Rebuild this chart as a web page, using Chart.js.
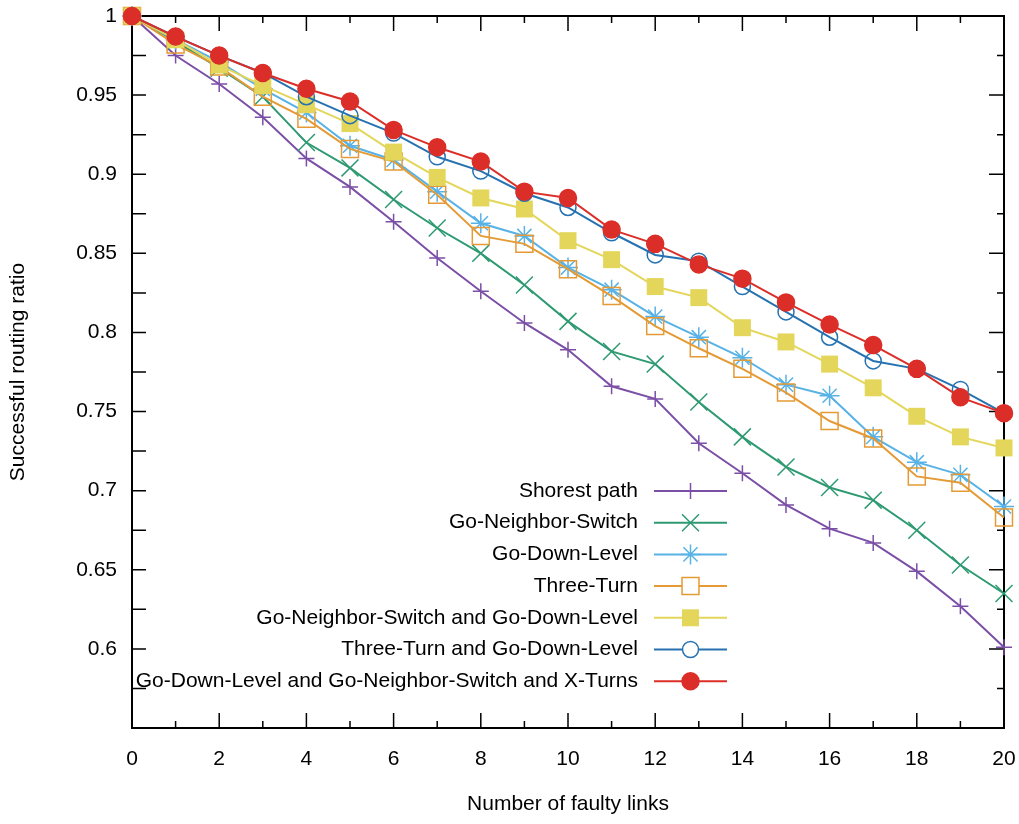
<!DOCTYPE html>
<html lang="en">
  <head>
    <meta charset="UTF-8" />
    <title>Successful routing ratio vs faulty links</title>
    <style>
      * {
        margin: 0;
        padding: 0;
        box-sizing: border-box;
      }
      body {
        background: white;
      }
      .chartBox {
        width: 1019px;
        height: 824px;
      }
    </style>
  </head>
  <body>
    <div class="chartBox">
      <canvas id="myChart" width="1019" height="824"></canvas>
    </div>

    <script src="https://cdn.jsdelivr.net/npm/chart.js"></script>

    <script>
      const faultyLinks = [0, 1, 2, 3, 4, 5, 6, 7, 8, 9, 10, 11, 12, 13, 14, 15, 16, 17, 18, 19, 20];
      const xTickLabels = ["0", "2", "4", "6", "8", "10", "12", "14", "16", "18", "20"];
      const yTickLabels = ["0.6", "0.65", "0.7", "0.75", "0.8", "0.85", "0.9", "0.95", "1"];

      const shortestPath = [1.0, 0.975, 0.957, 0.936, 0.910, 0.892, 0.870, 0.847, 0.826, 0.806, 0.789,
        0.766, 0.758, 0.730, 0.711, 0.691, 0.676, 0.667, 0.649, 0.627, 0.601];
      const goNeighborSwitch = [1.0, 0.984, 0.967, 0.949, 0.920, 0.904, 0.884, 0.866, 0.850, 0.830, 0.807,
        0.788, 0.780, 0.756, 0.734, 0.715, 0.702, 0.694, 0.675, 0.653, 0.635];
      const goDownLevel = [1.0, 0.985, 0.971, 0.954, 0.939, 0.918, 0.909, 0.889, 0.869, 0.861, 0.841,
        0.827, 0.810, 0.797, 0.784, 0.767, 0.760, 0.734, 0.718, 0.710, 0.690];
      const threeTurn = [1.0, 0.982, 0.968, 0.949, 0.935, 0.916, 0.908, 0.887, 0.861, 0.856, 0.840,
        0.823, 0.804, 0.790, 0.777, 0.762, 0.744, 0.733, 0.709, 0.705, 0.683];
      const neighborAndDown = [1.0, 0.985, 0.969, 0.956, 0.944, 0.932, 0.914, 0.898, 0.885, 0.878, 0.858,
        0.846, 0.829, 0.822, 0.803, 0.794, 0.780, 0.765, 0.747, 0.734, 0.727];
      const threeTurnAndDown = [1.0, 0.987, 0.975, 0.964, 0.949, 0.937, 0.926, 0.911, 0.902, 0.888, 0.879,
        0.863, 0.849, 0.845, 0.829, 0.813, 0.797, 0.782, 0.777, 0.764, 0.749];
      const allWithXTurns = [1.0, 0.987, 0.975, 0.964, 0.954, 0.946, 0.928, 0.917, 0.908, 0.889, 0.885,
        0.865, 0.856, 0.843, 0.834, 0.819, 0.805, 0.792, 0.777, 0.759, 0.749];

      Chart.defaults.font.family = "'Liberation Sans', Arial, sans-serif";
      Chart.defaults.font.size = 21;
      Chart.defaults.color = "#000";

      const toPoints = (values) => values.map((v, i) => ({ x: faultyLinks[i], y: v }));
      const fmt = (v) => String(+v.toFixed(3));

      const series = [
        { label: "Shorest path", values: shortestPath, color: "#7b4fa6", style: "cross", r: 8, fill: true },
        { label: "Go-Neighbor-Switch", values: goNeighborSwitch, color: "#2e9a72", style: "crossRot", r: 12, fill: true },
        { label: "Go-Down-Level", values: goDownLevel, color: "#58b2e6", style: "star", r: 10, fill: true },
        { label: "Three-Turn", values: threeTurn, color: "#e49a35", style: "rect", r: 12, fill: false },
        { label: "Go-Neighbor-Switch and Go-Down-Level", values: neighborAndDown, color: "#e3d65a", style: "rect", r: 12, fill: true },
        { label: "Three-Turn and Go-Down-Level", values: threeTurnAndDown, color: "#2672b0", style: "circle", r: 8, fill: false },
        { label: "Go-Down-Level and Go-Neighbor-Switch and X-Turns", values: allWithXTurns, color: "#dc2e28", style: "circle", r: 8.5, fill: true },
      ];

      const data = {
        datasets: series.map((s, i) => ({
          label: s.label,
          data: toPoints(s.values),
          borderColor: s.color,
          backgroundColor: s.color,
          borderWidth: 2,
          pointStyle: s.style,
          pointRadius: s.r,
          pointBorderColor: s.color,
          pointBackgroundColor: s.fill ? s.color : "rgba(0,0,0,0)",
          pointBorderWidth: s.style === "rect" && s.fill ? 0 : 1.5,
          pointHoverRadius: s.r,
          tension: 0,
          clip: false,
          order: series.length - i,
        })),
      };

      // gnuplot style frame with inward ticks on all four sides
      const frameTicks = {
        id: "frameTicks",
        beforeDatasetsDraw(chart) {
          const { ctx, chartArea, scales } = chart;
          const { left, right, top, bottom } = chartArea;
          ctx.save();
          ctx.strokeStyle = "#000";
          ctx.lineWidth = 1.5;
          ctx.beginPath();
          scales.x.ticks.forEach((t) => {
            const px = scales.x.getPixelForValue(t.value);
            const len = t.value % 2 === 0 ? 15 : 7;
            ctx.moveTo(px, bottom);
            ctx.lineTo(px, bottom - len);
            ctx.moveTo(px, top);
            ctx.lineTo(px, top + len);
          });
          scales.y.ticks.forEach((t) => {
            const py = scales.y.getPixelForValue(t.value);
            const major = yTickLabels.includes(fmt(t.value));
            ctx.moveTo(left, py);
            ctx.lineTo(left + 14, py);
            ctx.moveTo(right, py);
            ctx.lineTo(right - (major ? 15 : 7), py);
          });
          ctx.stroke();
          ctx.lineWidth = 2;
          ctx.strokeRect(left, top, right - left, bottom - top);
          ctx.restore();
        },
      };

      // key drawn inside the plot: text right aligned, sample line after it
      const keyBox = {
        id: "keyBox",
        afterDatasetsDraw(chart) {
          const { ctx, chartArea } = chart;
          const textRight = chartArea.left + 506;
          const lineStart = textRight + 16;
          const lineEnd = lineStart + 73;
          ctx.save();
          ctx.font = "21px 'Liberation Sans', Arial, sans-serif";
          ctx.textAlign = "right";
          ctx.textBaseline = "middle";
          chart.data.datasets.forEach((ds, i) => {
            const yy = chartArea.top + 475 + i * 31.7;
            ctx.fillStyle = "#000";
            ctx.fillText(ds.label, textRight, yy);
            ctx.strokeStyle = ds.borderColor;
            ctx.lineWidth = 2;
            ctx.beginPath();
            ctx.moveTo(lineStart, yy);
            ctx.lineTo(lineEnd, yy);
            ctx.stroke();
            const hollow = ds.pointBackgroundColor === "rgba(0,0,0,0)";
            ctx.fillStyle = hollow ? "#fff" : ds.pointBackgroundColor;
            ctx.strokeStyle = ds.pointBorderColor;
            ctx.lineWidth = ds.pointBorderWidth;
            Chart.helpers.drawPoint(
              ctx,
              { pointStyle: ds.pointStyle, radius: ds.pointRadius, borderWidth: ds.pointBorderWidth, rotation: 0 },
              (lineStart + lineEnd) / 2,
              yy
            );
          });
          ctx.restore();
        },
      };

      const noEdgePadding = (scale) => {
        scale.paddingTop = 0;
        scale.paddingBottom = 0;
        scale.paddingLeft = 0;
        scale.paddingRight = 0;
      };

      const config = {
        type: "line",
        data: data,
        options: {
          responsive: false,
          animation: false,
          layout: {
            autoPadding: false,
            padding: { top: 16, right: 15, left: 0, bottom: 0 },
          },
          scales: {
            x: {
              type: "linear",
              min: 0,
              max: 20,
              afterFit: (scale) => {
                scale.height = 96;
                noEdgePadding(scale);
              },
              grid: { display: false, drawTicks: false },
              border: { display: false },
              ticks: {
                stepSize: 1,
                autoSkip: false,
                maxRotation: 0,
                padding: 19,
                callback: (v) => (xTickLabels.includes(fmt(v)) ? fmt(v) : ""),
              },
              title: {
                display: true,
                text: "Number of faulty links",
                padding: { top: 0, bottom: 7 },
              },
            },
            y: {
              min: 0.55,
              max: 1,
              afterFit: (scale) => {
                scale.width = 132;
                noEdgePadding(scale);
              },
              grid: { display: false, drawTicks: false },
              border: { display: false },
              ticks: {
                stepSize: 0.025,
                autoSkip: false,
                padding: 15,
                callback: (v) => (yTickLabels.includes(fmt(v)) ? fmt(v) : ""),
              },
              title: {
                display: true,
                text: "Successful routing ratio",
                padding: { top: 6, bottom: 0 },
              },
            },
          },
          plugins: {
            legend: { display: false },
            tooltip: { enabled: false },
          },
        },
        plugins: [frameTicks, keyBox],
      };

      const myChart = new Chart(document.getElementById("myChart"), config);
    </script>
  </body>
</html>
